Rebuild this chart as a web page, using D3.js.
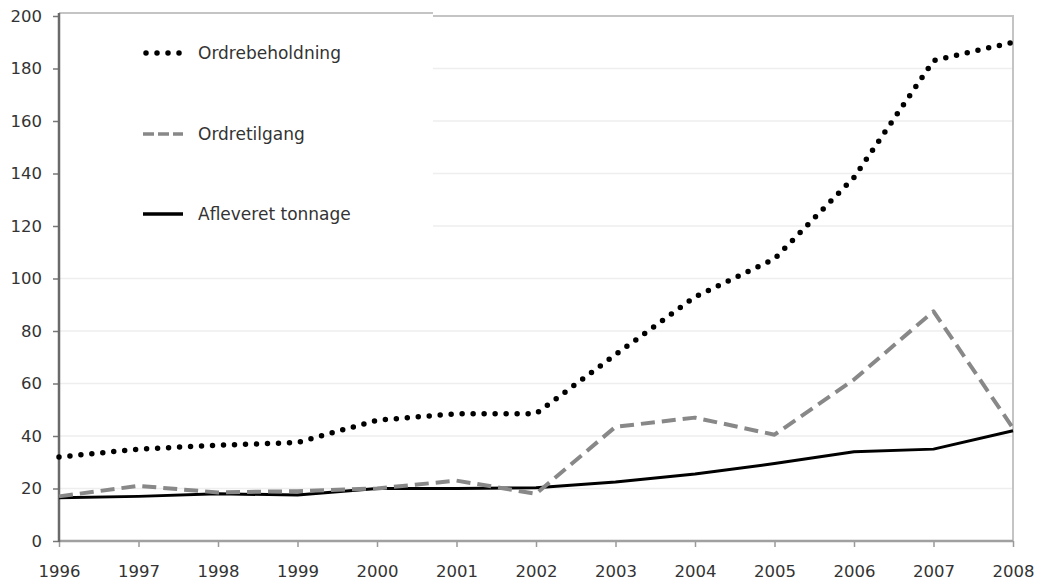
<!DOCTYPE html>
<html>
<head>
<meta charset="utf-8">
<script src="https://cdn.jsdelivr.net/npm/d3@7"></script>
<style>
  html, body { margin: 0; padding: 0; background: #fff; }
  svg { display: block; }
  text { font-family: "DejaVu Sans", Verdana, sans-serif; fill: #333; }
</style>
</head>
<body>
<svg id="chart" width="1037" height="581"></svg>
<script>
// Years on the x axis
const years = [1996, 1997, 1998, 1999, 2000, 2001, 2002, 2003, 2004, 2005, 2006, 2007, 2008];
// Order book
const ordrebeholdning = [32, 35, 36.5, 37.5, 46, 48.5, 48.5, 71, 93, 107.5, 138.5, 183, 190];
// New orders
const ordretilgang = [17, 21, 18.5, 19, 20, 23, 18, 43.5, 47, 40.5, 61.5, 87.5, 43];
// Delivered tonnage
const afleveret = [16.5, 17, 18, 17.5, 20, 20, 20.3, 22.5, 25.5, 29.5, 34, 35, 42];
// Y axis ticks
const yTicks = [0, 20, 40, 60, 80, 100, 120, 140, 160, 180, 200];
const seriesNames = ["Ordrebeholdning", "Ordretilgang", "Afleveret tonnage"];

const svg = d3.select("#chart");
const plotLeft = 59, plotRight = 1013, plotTop = 16, plotBottom = 541;

const x = d3.scaleLinear().domain([1996, 2008]).range([plotLeft, plotRight]);
const y = d3.scaleLinear().domain([0, 200]).range([plotBottom, plotTop]);

// faint horizontal gridlines
svg.append("g")
  .selectAll("line")
  .data(yTicks.filter(d => d > 0 && d < 200))
  .join("line")
  .attr("x1", plotLeft).attr("x2", plotRight)
  .attr("y1", d => y(d)).attr("y2", d => y(d))
  .attr("stroke", "#eeeeee").attr("stroke-width", 1.5);

// plot frame: top and right
svg.append("path")
  .attr("d", `M${plotLeft},${plotTop}H${plotRight}V${plotBottom}`)
  .attr("fill", "none").attr("stroke", "#c4c4c4").attr("stroke-width", 2);

// legend panel (covers gridlines in the upper left)
svg.append("rect")
  .attr("x", plotLeft).attr("y", 13).attr("width", 433 - plotLeft).attr("height", 249)
  .attr("fill", "#fff");
svg.append("line")
  .attr("x1", plotLeft).attr("x2", 433).attr("y1", 13).attr("y2", 13)
  .attr("stroke", "#c4c4c4").attr("stroke-width", 2);

// Y axis
const yAxis = d3.axisLeft(y).tickValues(yTicks).tickSize(6).tickPadding(11);
const gy = svg.append("g").attr("transform", `translate(${plotLeft},0)`).call(yAxis);
gy.select(".domain").remove();
gy.selectAll(".tick line").attr("stroke", "#777").attr("stroke-width", 1.5);
gy.selectAll(".tick text").style("font-size", "16.5px").attr("fill", "#333");

// X axis
const xAxis = d3.axisBottom(x).tickValues(years).tickFormat(d3.format("d")).tickSize(6).tickPadding(18);
const gx = svg.append("g").attr("transform", `translate(0,${plotBottom})`).call(xAxis);
gx.select(".domain").remove();
gx.selectAll(".tick line").attr("stroke", "#999").attr("stroke-width", 1.5);
gx.selectAll(".tick text").style("font-size", "16.5px").attr("fill", "#333");

// axis lines
svg.append("line").attr("x1", plotLeft).attr("x2", plotRight).attr("y1", plotBottom).attr("y2", plotBottom)
  .attr("stroke", "#a0a0a0").attr("stroke-width", 2.5);
svg.append("line").attr("x1", plotLeft).attr("x2", plotLeft).attr("y1", 13).attr("y2", plotBottom + 1)
  .attr("stroke", "#6a6a6a").attr("stroke-width", 2.5);

const styles = [
  { color: "#000", width: 5.5, dash: "0 11", cap: "round" },
  { color: "#888", width: 4, dash: "14 7", cap: "butt" },
  { color: "#000", width: 3, dash: null, cap: "butt" }
];
const seriesData = [ordrebeholdning, ordretilgang, afleveret];

const line = d3.line()
  .x((d, i) => x(years[i]))
  .y(d => y(d))
  .curve(d3.curveLinear);

// draw solid first so dashed and dotted sit on top
[2, 1, 0].forEach(k => {
  svg.append("path")
    .datum(seriesData[k])
    .attr("d", line)
    .attr("fill", "none")
    .attr("stroke", styles[k].color)
    .attr("stroke-width", styles[k].width)
    .attr("stroke-linecap", styles[k].cap)
    .attr("stroke-linejoin", "round")
    .attr("stroke-dasharray", styles[k].dash);
});

// legend
const legendY = [53, 134, 214];
const legendDash = ["0 11", "11 4", null];
seriesNames.forEach((name, k) => {
  svg.append("line")
    .attr("x1", k === 0 ? 146 : 143).attr("x2", 183)
    .attr("y1", legendY[k]).attr("y2", legendY[k])
    .attr("stroke", styles[k].color)
    .attr("stroke-width", k === 0 ? 5.5 : 3.5)
    .attr("stroke-linecap", styles[k].cap)
    .attr("stroke-dasharray", legendDash[k]);
  svg.append("text")
    .attr("x", 198).attr("y", legendY[k] + 6)
    .style("font-size", "17px")
    .attr("fill", "#333")
    .text(name);
});
</script>
</body>
</html>
